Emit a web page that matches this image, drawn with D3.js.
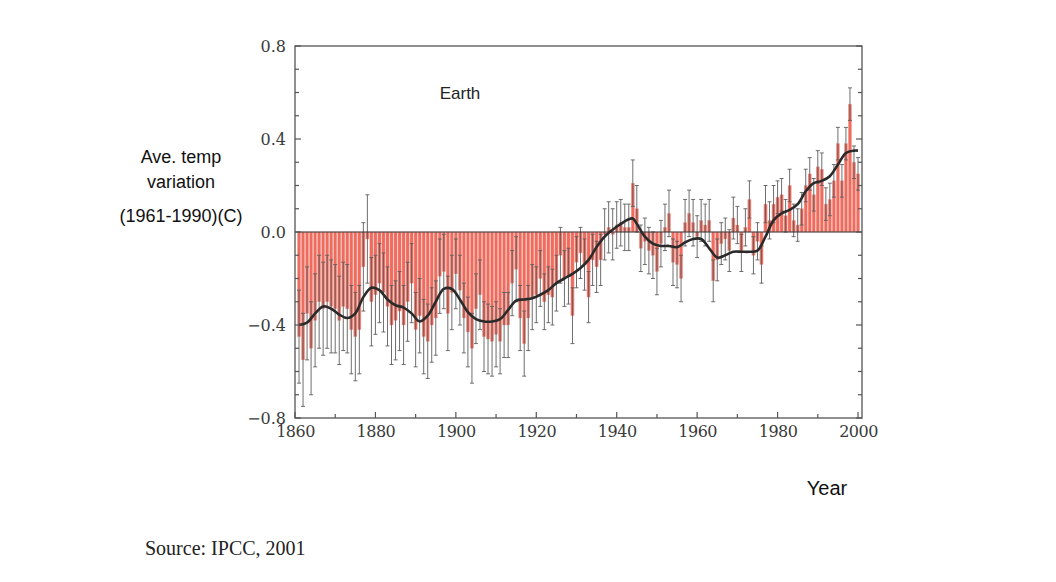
<!DOCTYPE html>
<html><head><meta charset="utf-8">
<script src="https://cdn.jsdelivr.net/npm/d3@7"></script>
<style>body{margin:0;background:#fff}svg{display:block}</style>
</head><body><svg id="c" width="1056" height="582"></svg>
<script>
const firstYear = 1861;
const anomalies = [
-0.45,-0.55,-0.35,-0.50,-0.38,-0.30,-0.33,-0.30,-0.32,-0.33,
-0.38,-0.32,-0.33,-0.42,-0.45,-0.42,-0.15,-0.03,-0.30,-0.27,
-0.22,-0.26,-0.32,-0.40,-0.38,-0.34,-0.40,-0.30,-0.22,-0.42,
-0.36,-0.45,-0.47,-0.40,-0.37,-0.19,-0.17,-0.35,-0.26,-0.18,
-0.25,-0.37,-0.43,-0.50,-0.33,-0.27,-0.45,-0.46,-0.47,-0.44,
-0.47,-0.40,-0.40,-0.22,-0.16,-0.37,-0.48,-0.37,-0.28,-0.27,
-0.20,-0.30,-0.27,-0.28,-0.22,-0.10,-0.20,-0.19,-0.36,-0.13,
-0.09,-0.14,-0.28,-0.12,-0.15,-0.12,-0.01,0.02,-0.01,0.03,
0.04,0.02,0.02,0.21,0.10,-0.07,-0.04,-0.08,-0.10,-0.17,
-0.05,0.02,0.08,-0.13,-0.14,-0.20,0.04,0.08,0.04,-0.02,
0.05,0.03,0.05,-0.21,-0.12,-0.05,-0.03,-0.08,0.06,0.03,
-0.09,0.02,0.14,-0.10,-0.04,-0.14,0.12,0.05,0.12,0.15,
0.16,0.07,0.20,0.05,0.03,0.10,0.20,0.25,0.16,0.28,
0.27,0.12,0.14,0.22,0.38,0.22,0.38,0.55,0.30,0.25];
// half-width of the uncertainty whisker, per decade (1860s ... 2000s)
const decadeError = [0.20,0.19,0.17,0.16,0.15,0.14,0.12,0.11,0.10,0.10,0.09,0.08,0.07,0.07,0.07];
const smoothYears = [1861,1863,1865,1867,1869,1871,1873,1875,1877,1879,1881,1883,1885,1887,1889,1891,1893,1895,1897,1899,1901,1903,1905,1907,1909,1911,1913,1915,1917,1919,1921,1923,1925,1927,1929,1931,1933,1935,1937,1939,1941,1943,1944,1945,1947,1949,1951,1953,1955,1957,1959,1961,1963,1965,1967,1969,1971,1973,1975,1977,1979,1981,1983,1985,1987,1989,1991,1993,1995,1997,1999,2000];
const smoothValues = [-0.40,-0.39,-0.35,-0.32,-0.33,-0.355,-0.37,-0.35,-0.28,-0.24,-0.25,-0.29,-0.315,-0.325,-0.35,-0.385,-0.36,-0.30,-0.245,-0.245,-0.29,-0.345,-0.375,-0.385,-0.385,-0.375,-0.335,-0.295,-0.29,-0.285,-0.27,-0.25,-0.22,-0.20,-0.18,-0.155,-0.12,-0.065,-0.02,0.01,0.035,0.055,0.058,0.035,-0.02,-0.05,-0.06,-0.06,-0.065,-0.045,-0.03,-0.03,-0.07,-0.11,-0.10,-0.085,-0.085,-0.085,-0.08,-0.02,0.05,0.08,0.095,0.12,0.175,0.21,0.22,0.24,0.29,0.34,0.35,0.35];
const yTicks = [0.8,0.4,0.0,-0.4,-0.8];
const xTicks = [1860,1880,1900,1920,1940,1960,1980,2000];

const svg = d3.select('#c');
const L=295, R=862, T=46, B=418;
const x = d3.scaleLinear().domain([1860,2000]).range([L,858]);
const y = d3.scaleLinear().domain([-0.8,0.8]).range([B,T]);

const data = anomalies.map((v,i)=>({year:firstYear+i, v, e:decadeError[Math.floor((firstYear+i-1860)/10)]}));

// bars
svg.append('g').selectAll('rect').data(data).join('rect')
  .attr('x',d=>x(d.year)-1.6).attr('width',3.2)
  .attr('y',d=>y(Math.max(0,d.v))).attr('height',d=>Math.abs(y(d.v)-y(0)))
  .attr('fill','#ee6b5e').attr('stroke','#f5aaa0').attr('stroke-width',0.4);

// whiskers
const wg = svg.append('g').attr('stroke','#5e5e5e').attr('stroke-width',0.9);
wg.selectAll('line.w').data(data).join('line').attr('class','w')
  .attr('x1',d=>x(d.year)).attr('x2',d=>x(d.year))
  .attr('y1',d=>y(d.v+d.e)).attr('y2',d=>y(d.v-d.e));
wg.selectAll('line.t').data(data).join('line').attr('class','t')
  .attr('x1',d=>x(d.year)-2).attr('x2',d=>x(d.year)+2)
  .attr('y1',d=>y(d.v+d.e)).attr('y2',d=>y(d.v+d.e));
wg.selectAll('line.b').data(data).join('line').attr('class','b')
  .attr('x1',d=>x(d.year)-2).attr('x2',d=>x(d.year)+2)
  .attr('y1',d=>y(d.v-d.e)).attr('y2',d=>y(d.v-d.e));

// zero line
svg.append('line').attr('x1',L).attr('x2',R).attr('y1',y(0)).attr('y2',y(0))
  .attr('stroke','#333').attr('stroke-width',1.2);

// smoothed curve
const line = d3.line().x(d=>x(d[0])).y(d=>y(d[1])).curve(d3.curveCatmullRom.alpha(0.5));
svg.append('path').datum(smoothYears.map((yr,i)=>[yr,smoothValues[i]]))
  .attr('d',line).attr('fill','none').attr('stroke','#2a2a2a').attr('stroke-width',2.6)
  .attr('stroke-linejoin','round');

// frame
svg.append('rect').attr('x',L).attr('y',T).attr('width',R-L).attr('height',B-T)
  .attr('fill','none').attr('stroke','#555').attr('stroke-width',1.3);

// axes with inward ticks
const yMinor = d3.range(-0.8,0.81,0.1);
const ax = svg.append('g').attr('stroke','#555').attr('stroke-width',1.2);
ax.selectAll('line.yl').data(yMinor).join('line')
  .attr('x1',L).attr('x2',d=>L+(Math.abs(Math.round(d*10))%4===0?6:4))
  .attr('y1',d=>y(d)).attr('y2',d=>y(d));
ax.selectAll('line.yr').data(yMinor).join('line')
  .attr('x1',R).attr('x2',d=>R-(Math.abs(Math.round(d*10))%4===0?6:4))
  .attr('y1',d=>y(d)).attr('y2',d=>y(d));
const xMinor = d3.range(1860,2001,10);
ax.selectAll('line.xb').data(xMinor).join('line')
  .attr('x1',d=>x(d)).attr('x2',d=>x(d))
  .attr('y1',B).attr('y2',d=>B-(d%20===0?6:4));

const serif = 'DejaVu Serif, Liberation Serif, serif';
const yAxis = d3.axisLeft(y).tickValues(yTicks).tickSize(0).tickPadding(9).tickFormat(d3.format('.1f'));
const ga = svg.append('g').attr('transform',`translate(${L},0)`).call(yAxis);
ga.select('.domain').remove();
ga.selectAll('text').attr('font-family',serif).attr('font-size',16)
  .attr('fill','#3a3a3a').text(d=>d<0?'\u2212'+Math.abs(d).toFixed(1):d.toFixed(1));
const xAxis = d3.axisBottom(x).tickValues(xTicks).tickSize(0).tickPadding(9).tickFormat(d3.format('d'));
const gx = svg.append('g').attr('transform',`translate(0,${B})`).call(xAxis);
gx.select('.domain').remove();
gx.selectAll('text').attr('font-family',serif).attr('font-size',16).attr('letter-spacing','-0.5')
  .attr('fill','#3a3a3a').attr('dy','0.6em');

// labels
const sans = 'Liberation Sans, Arial, sans-serif';
svg.append('text').attr('x',460).attr('y',99).attr('text-anchor','middle')
  .attr('font-family',sans).attr('font-size',17).attr('fill','#222').text('Earth');
[['Ave. temp',163],['variation',188],['(1961-1990)(C)',222]].forEach(([t,yy])=>{
  svg.append('text').attr('x',181).attr('y',yy).attr('text-anchor','middle')
    .attr('font-family',sans).attr('font-size',18).attr('fill','#111').text(t);
});
svg.append('text').attr('x',827).attr('y',495).attr('text-anchor','middle')
  .attr('font-family',sans).attr('font-size',20).attr('fill','#111').text('Year');
svg.append('text').attr('x',145).attr('y',555)
  .attr('font-family','Liberation Serif, Times New Roman, serif').attr('font-size',20).attr('fill','#222').text('Source: IPCC, 2001');
</script></body></html>
